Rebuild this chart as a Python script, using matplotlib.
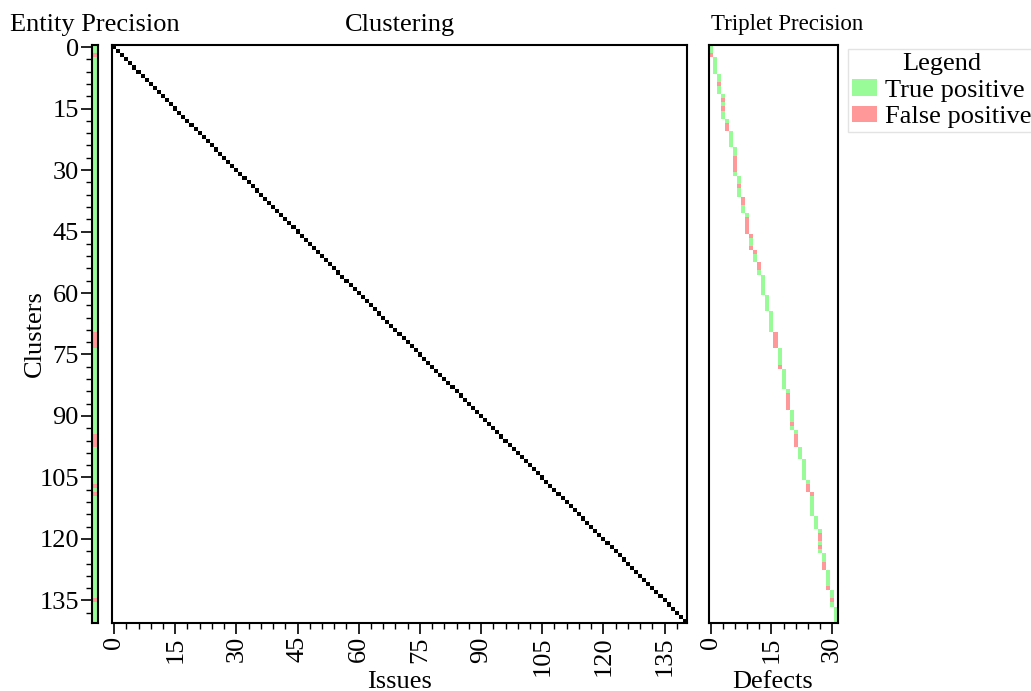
import numpy as np
import matplotlib
matplotlib.use("Agg")
import matplotlib.pyplot as plt
from matplotlib.colors import ListedColormap
from matplotlib.patches import Patch
from matplotlib.ticker import MultipleLocator

plt.rcParams['font.family'] = ['Liberation Serif', 'DejaVu Serif']
plt.rcParams['font.size'] = 19

# clusters / issues
n_clusters = 141
n_issues = 141
issue_cluster = list(range(n_issues))  # each issue sits in its own cluster

# entity precision: clusters whose entity is a false positive
entity_fp_rows = [2, 70, 71, 72, 73, 95, 96, 97, 107, 109, 135]

# triplet precision: per defect, the run of clusters (T = true pos, F = false pos)
triplet_runs = ["TTF", "TTTT", "TTFTT", "TFTFTT", "TFF", "TTTT", "TTFFFFT",
                "TTFTT", "FFTT", "TFFFF", "FTTF", "FTT", "FFT", "TTTTT",
                "TTTT", "TTTTT", "FFFF", "TTTTF", "TTTTT", "TFFFF", "TTTFT",
                "TFFF", "TTT", "TTTTT", "TFF", "FTTTTT", "TTT", "TFFTFT",
                "TTFF", "TTTTF", "TTFT", "TTTT"]

green = '#98fb98'
red = '#ff9999'
cmap_tf = ListedColormap([green, red])

# build matrices
entity = np.zeros((n_clusters, 1))
entity[entity_fp_rows, 0] = 1

clust = np.zeros((n_clusters, n_issues))
for i, c in enumerate(issue_cluster):
    clust[c, i] = 1

n_defects = len(triplet_runs)
trip = np.full((n_clusters, n_defects), np.nan)
row = 0
for d, run in enumerate(triplet_runs):
    for ch in run:
        trip[row, d] = 0 if ch == 'T' else 1
        row += 1

W, H = 1031, 691
fig = plt.figure(figsize=(W / 100, H / 100), dpi=100)

def box(x0, x1, y0=45, y1=623):
    return [x0 / W, 1 - y1 / H, (x1 - x0) / W, (y1 - y0) / H]

ax_e = fig.add_axes(box(92, 98))
ax_c = fig.add_axes(box(112, 687))
ax_t = fig.add_axes(box(709, 838))

ax_e.imshow(entity, cmap=cmap_tf, vmin=0, vmax=1, aspect='auto',
            interpolation='nearest')
ax_c.imshow(clust, cmap='binary', vmin=0, vmax=1, aspect='auto',
            interpolation='nearest')
ax_t.imshow(trip, cmap=cmap_tf, vmin=0, vmax=1, aspect='auto',
            interpolation='nearest')

for ax in (ax_e, ax_c, ax_t):
    for s in ax.spines.values():
        s.set_linewidth(1.5)
    ax.tick_params(which='major', length=8, width=1.2, pad=1.5)
    ax.tick_params(which='minor', length=4, width=1)

# entity strip: y axis
ax_e.set_xticks([])
ax_e.yaxis.set_major_locator(MultipleLocator(15))
ax_e.yaxis.set_minor_locator(MultipleLocator(3))
ax_e.set_ylim(n_clusters - 0.5, -0.5)
ax_e.set_title('Entity Precision', fontsize=19, pad=10)
fig.text(35 / W, 1 - 334 / H, 'Clusters', rotation=90, ha='center',
         va='center')

# clustering
ax_c.set_yticks([])
ax_c.xaxis.set_major_locator(MultipleLocator(15))
ax_c.xaxis.set_minor_locator(MultipleLocator(3))
ax_c.set_xlim(-0.5, n_issues - 0.5)
ax_c.tick_params(axis='x', labelrotation=90)
ax_c.set_title('Clustering', fontsize=19, pad=10)
fig.text(400 / W, 1 - 688 / H, 'Issues', ha='center', va='baseline')

# triplet
ax_t.set_yticks([])
ax_t.xaxis.set_major_locator(MultipleLocator(15))
ax_t.xaxis.set_minor_locator(MultipleLocator(3))
ax_t.set_xlim(-0.5, n_defects - 0.5)
ax_t.tick_params(axis='x', labelrotation=90)
fig.text(773 / W, 1 - 688 / H, 'Defects', ha='center', va='baseline')
fig.text(787 / W, 1 - 30 / H, 'Triplet Precision', ha='center',
         va='baseline', fontsize=16.5)

handles = [Patch(facecolor=green, edgecolor='none', label='True positive'),
           Patch(facecolor=red, edgecolor='none', label='False positive')]
fig.legend(handles=handles, title='Legend', loc='upper left',
           bbox_to_anchor=(848 / W, 1 - 49 / H), frameon=True,
           handlelength=0.95, handleheight=0.6, handletextpad=0.3,
           borderpad=0.15, labelspacing=0.15, borderaxespad=0,
           title_fontsize=19, edgecolor='#dddddd', fancybox=False)

fig.savefig('out.png', dpi=100)
